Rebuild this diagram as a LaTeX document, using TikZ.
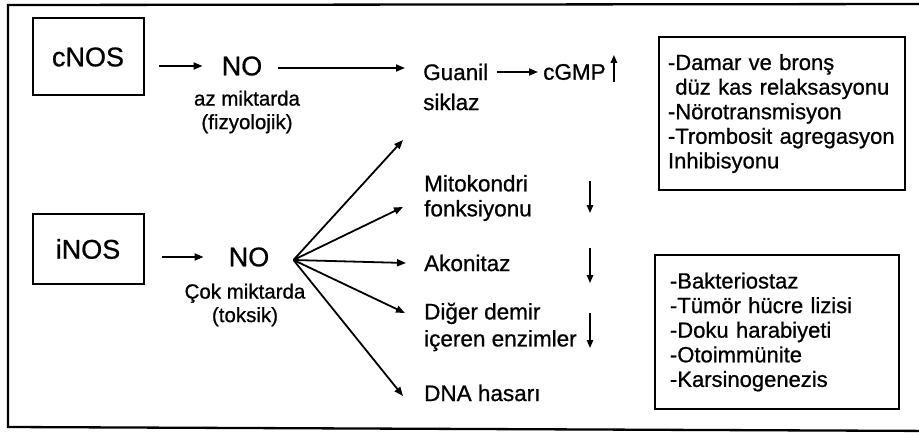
\documentclass[tikz,border=0pt]{standalone}
\usepackage{fontspec}
\setmainfont{Liberation Sans}[FakeBold=0.8]
\usetikzlibrary{arrows.meta}
\begin{document}
\begin{tikzpicture}[x=1pt,y=-1pt,
  arr/.style={-{Triangle[length=9pt,width=7pt]}, line width=1.8pt},
  ind/.style={-{Triangle[length=8pt,width=6.5pt]}, line width=1.4pt},
  srcbox/.style={draw, line width=2pt, minimum width=111pt, minimum height=77pt,
                 font=\fontsize{27}{30}\selectfont},
  big/.style={inner sep=0pt, font=\fontsize{27}{30}\selectfont},
  lbl/.style={inner sep=0pt, align=left, anchor=west, font=\fontsize{22.5}{27}\selectfont},
  note/.style={inner sep=0pt, align=center, font=\fontsize{20.5}{23.5}\selectfont},
  effbox/.style={draw, line width=2pt, align=left, font=\fontsize{22}{24.6}\selectfont}
]
\useasboundingbox (0,0) rectangle (919,436);

% outer frame (its right side lies past the page edge)
\draw[line width=2.3pt] (940,4) -- (8,5) -- (8,427) -- (940,431);

% sources
\node[srcbox] (cnos) at (88,57) {cNOS};
\node[srcbox, minimum height=70pt] (inos) at (88,249) {iNOS};

% nitric oxide, low and high amounts
\node[big] (no1) at (242,66) {NO};
\node[note] (no1n) at (247,112) {az miktarda\\(fizyolojik)};
\node[big] (no2) at (249,257) {NO};
\node[note] (no2n) at (245,305) {Çok miktarda\\(toksik)};

% targets
\node[lbl, font=\fontsize{22.5}{30}\selectfont] (guanil) at (423,87) {Guanil\\siklaz};
\node[lbl] (cgmp) at (543,72) {cGMP};
\node[lbl, font=\fontsize{22.5}{25}\selectfont] (mito) at (424,198) {Mitokondri\\fonksiyonu};
\node[lbl] (akon) at (424,263) {Akonitaz};
\node[lbl] (diger) at (424,327) {Diğer demir\\içeren enzimler};
\node[lbl] (dna) at (424,393) {DNA hasarı};

% effects
\node[effbox, text width=228pt, inner xsep=9pt, minimum height=153pt] (eff1) at (782,113.5)
  {-Damar ve bronş\\\phantom{-}düz kas relaksasyonu\\-Nörotransmisyon\\-Trombosit agregasyon\\Inhibisyonu};
\node[effbox, text width=214pt, inner xsep=15pt, minimum height=154pt] (eff2) at (777,332)
  {-Bakteriostaz\\-Tümör hücre lizisi\\-Doku harabiyeti\\-Otoimmünite\\-Karsinogenezis};

% physiological pathway
\draw[arr, shorten <=14pt, shorten >=19pt] (cnos.east |- no1) -- (no1.west);
\draw[arr, shorten <=16pt, shorten >=18pt] ([yshift=-2pt]no1.east) -- ([yshift=-2pt]no1.east -| guanil.west);
\draw[arr, shorten <=9pt, shorten >=5pt] (guanil.east |- cgmp.west) -- (cgmp.west);

% toxic pathway
\draw[arr, shorten <=17pt, shorten >=25pt] (inos.east |- no2) -- (no2.west);
\coordinate (fan) at ([xshift=24pt,yshift=-3pt]no2.east);
\draw[arr] (fan) -- ([xshift=-20pt,yshift=-53pt]guanil.west);
\draw[arr] (fan) -- ([xshift=-21pt,yshift=-9pt]mito.west);
\draw[arr] (fan) -- ([xshift=-18pt]akon.west);
\draw[arr] (fan) -- ([xshift=-19pt,yshift=14pt]diger.west);
\draw[arr] (fan) -- ([xshift=-21pt,yshift=-3pt]dna.west);

% increase / decrease marks
\draw[ind] ([xshift=8pt,yshift=-10pt]cgmp.east) -- ++(0,-27);
\draw[ind] (590,181) -- (590,213);
\draw[ind] (590,248) -- (590,283);
\draw[ind] (590,313) -- (590,348);
\end{tikzpicture}
\end{document}
